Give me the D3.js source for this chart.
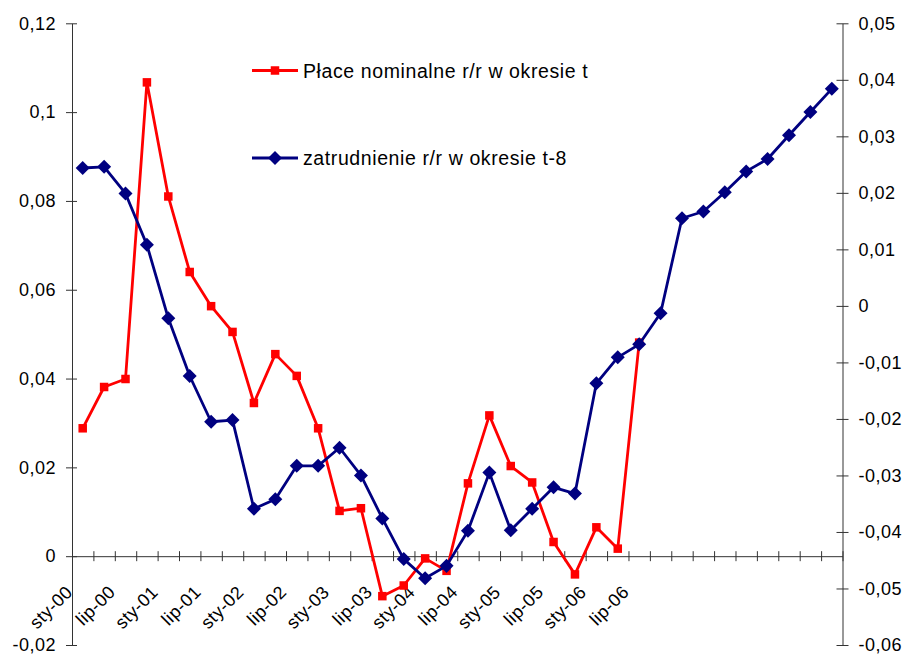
<!DOCTYPE html>
<html>
<head>
<meta charset="utf-8">
<script src="https://cdn.jsdelivr.net/npm/d3@7/dist/d3.min.js"></script>
<style>
  html, body { margin: 0; padding: 0; background: #fff; }
  svg { display: block; }
  text { font-family: "Liberation Sans", Arial, Helvetica, sans-serif; fill: #000; }
</style>
</head>
<body>
<svg id="chart" width="904" height="655"></svg>
<script>
// Quarterly categories (labels every half-year)
const quarterLabels = [
  "sty-00", "", "lip-00", "", "sty-01", "", "lip-01", "", "sty-02", "", "lip-02", "",
  "sty-03", "", "lip-03", "", "sty-04", "", "lip-04", "", "sty-05", "", "lip-05", "",
  "sty-06", "", "lip-06", "", "", "", "", "", "", "", "", ""
];

// Nominal wages y/y in period t (left axis)
const wagesValues = [
  0.0288, 0.0381, 0.0399, 0.1067, 0.0810, 0.0640, 0.0563, 0.0505, 0.0345, 0.0455,
  0.0406, 0.0288, 0.0102, 0.0108, -0.0090, -0.0066, -0.0005, -0.0033, 0.0164, 0.0317,
  0.0203, 0.0166, 0.0032, -0.0041, 0.0065, 0.0017, 0.0481
];

// Employment y/y in period t-8 (right axis)
const employmentValues = [
  0.0244, 0.0246, 0.0199, 0.0108, -0.0022, -0.0124, -0.0205, -0.0202, -0.0359, -0.0342,
  -0.0283, -0.0283, -0.0251, -0.0300, -0.0376, -0.0448, -0.0482, -0.0460, -0.0398, -0.0295,
  -0.0397, -0.0359, -0.0321, -0.0332, -0.0137, -0.0091, -0.0068, -0.0013, 0.0155, 0.0167,
  0.0201, 0.0238, 0.0260, 0.0302, 0.0343, 0.0384
];

const leftTicks = [-0.02, 0, 0.02, 0.04, 0.06, 0.08, 0.1, 0.12];
const rightTicks = [-0.06, -0.05, -0.04, -0.03, -0.02, -0.01, 0, 0.01, 0.02, 0.03, 0.04, 0.05];

const seriesNames = ["Płace nominalne r/r w okresie t", "zatrudnienie r/r w okresie t-8"];
const seriesColors = ["#ff0000", "#000080"];

// Layout
const plot = { left: 72, right: 842.5, top: 23.3, bottom: 645 };
const axisColor = "#333";
const fmt = d => String(+d.toFixed(2)).replace(".", ",");

const svg = d3.select("#chart");

const xEdge = d3.scaleLinear().domain([0, quarterLabels.length]).range([plot.left, plot.right]);
const xc = i => xEdge(i + 0.5);
const yL = d3.scaleLinear().domain([-0.02, 0.12]).range([plot.bottom, plot.top]);
const yR = d3.scaleLinear().domain([-0.06, 0.05]).range([plot.bottom, plot.top]);

// Left axis
const gL = svg.append("g")
  .attr("transform", `translate(${plot.left},0)`)
  .call(d3.axisLeft(yL).tickValues(leftTicks).tickFormat(fmt).tickSizeInner(6).tickSizeOuter(0).tickPadding(10));
gL.selectAll(".tick line").attr("x1", 5).attr("stroke", axisColor);
gL.select(".domain").attr("stroke", axisColor);
gL.selectAll(".tick text").style("font-size", "18px").style("letter-spacing", "0.5px");

// Right axis
const gR = svg.append("g")
  .attr("transform", `translate(${plot.right},0)`)
  .call(d3.axisRight(yR).tickValues(rightTicks).tickFormat(fmt).tickSizeInner(6).tickSizeOuter(0).tickPadding(10));
gR.selectAll(".tick line").attr("x1", -6).attr("stroke", axisColor);
gR.select(".domain").attr("stroke", axisColor);
gR.selectAll(".tick text").style("font-size", "18px").style("letter-spacing", "0.5px");

// Category axis at zero of the left scale
const gX = svg.append("g")
  .attr("transform", `translate(0,${yL(0)})`)
  .call(d3.axisBottom(xEdge).tickValues(d3.range(0, quarterLabels.length + 1)).tickFormat("").tickSizeInner(5).tickSizeOuter(0));
gX.selectAll(".tick line").attr("y1", -5).attr("stroke", axisColor);
gX.select(".domain").attr("stroke", axisColor);

// Rotated category labels
svg.append("g").selectAll("text")
  .data(quarterLabels.map((t, i) => ({ t, i })).filter(d => d.t))
  .join("text")
  .attr("transform", d => `translate(${xc(d.i) - 9},${yL(0) + 37}) rotate(-45)`)
  .attr("text-anchor", "end")
  .style("font-size", "18px")
  .style("letter-spacing", "0.5px")
  .text(d => d.t);

// Series lines
const lineL = d3.line().x((d, i) => xc(i)).y(d => yL(d));
const lineR = d3.line().x((d, i) => xc(i)).y(d => yR(d));

svg.append("path").datum(wagesValues)
  .attr("d", lineL).attr("fill", "none")
  .attr("stroke", seriesColors[0]).attr("stroke-width", 2.8).attr("stroke-linejoin", "round");
svg.append("g").selectAll("rect").data(wagesValues).join("rect")
  .attr("x", (d, i) => xc(i) - 4.25).attr("y", d => yL(d) - 4.25)
  .attr("width", 8.5).attr("height", 8.5).attr("fill", seriesColors[0]);

const diamond = d3.symbol().type(d3.symbolDiamond2).size(125);
svg.append("path").datum(employmentValues)
  .attr("d", lineR).attr("fill", "none")
  .attr("stroke", seriesColors[1]).attr("stroke-width", 2.8).attr("stroke-linejoin", "round");
svg.append("g").selectAll("path").data(employmentValues).join("path")
  .attr("transform", (d, i) => `translate(${xc(i)},${yR(d)})`)
  .attr("d", diamond).attr("fill", seriesColors[1]);

// Legend
const legend = svg.append("g");
const legendY = [70.5, 158];
seriesNames.forEach((name, k) => {
  const g = legend.append("g").attr("transform", `translate(0,${legendY[k]})`);
  g.append("line").attr("x1", 252).attr("x2", 298).attr("y1", 0).attr("y2", 0)
    .attr("stroke", seriesColors[k]).attr("stroke-width", 2.8);
  if (k === 0) {
    g.append("rect").attr("x", 270.75).attr("y", -4.25).attr("width", 8.5).attr("height", 8.5).attr("fill", seriesColors[k]);
  } else {
    g.append("path").attr("transform", "translate(275,0)").attr("d", diamond).attr("fill", seriesColors[k]);
  }
  g.append("text").attr("x", 303).attr("y", 7)
    .style("font-size", "19.5px").style("letter-spacing", "0.6px")
    .text(name);
});
</script>
</body>
</html>
